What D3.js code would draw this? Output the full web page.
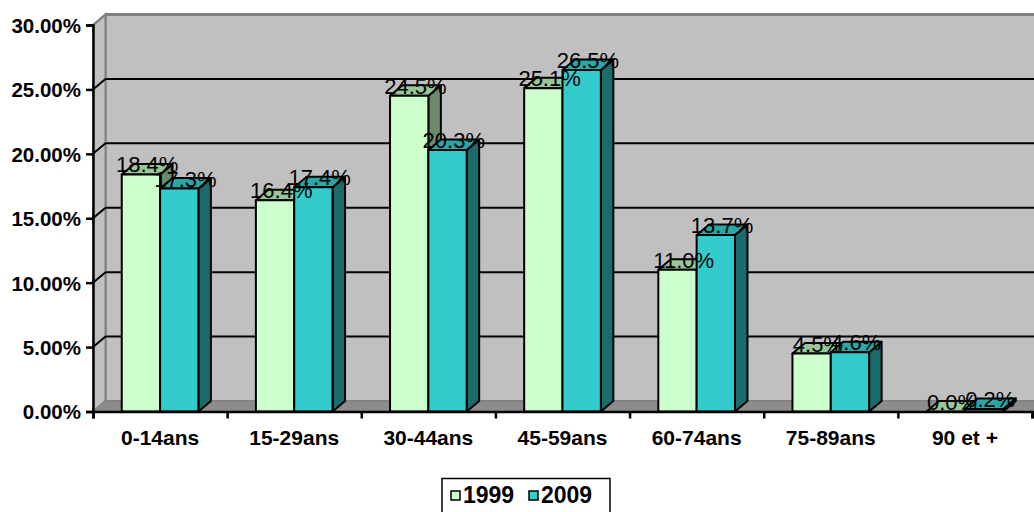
<!DOCTYPE html>
<html>
<head>
<meta charset="utf-8">
<script src="https://cdn.jsdelivr.net/npm/d3@7/dist/d3.min.js"></script>
<style>
  html, body { margin: 0; padding: 0; background: #fff; }
  svg { display: block; }
  text { font-family: "Liberation Sans", Arial, sans-serif; }
</style>
</head>
<body>
<svg id="chart" width="1034" height="512"></svg>
<script>
// Age groups and population share (%) per census year
const categories = ["0-14ans", "15-29ans", "30-44ans", "45-59ans", "60-74ans", "75-89ans", "90 et +"];
const seriesNames = ["1999", "2009"];
const values1999 = [18.4, 16.4, 24.5, 25.1, 11.0, 4.5, 0.0];
const values2009 = [17.3, 17.4, 20.3, 26.5, 13.7, 4.6, 0.2];
const yTicks = [0, 5, 10, 15, 20, 25, 30];

const seriesValues = { "1999": values1999, "2009": values2009 };
const colors = {
  "1999": { front: "#CCFFCC", top: "#99C699", side: "#6C8A6C" },
  "2009": { front: "#33CCCC", top: "#2AA6A6", side: "#1C6B6B" }
};

const svg = d3.select("#chart");
const W = 1034, H = 512;

// plot frame: front plane and oblique depth offset
const x0 = 93, x1 = 1032;
const yTop = 25, yBottom = 411.5;
const dx = 12.5, dy = -10.5;

const y = d3.scaleLinear().domain([0, 30]).range([yBottom, yTop]);
const x = d3.scaleBand().domain(categories).range([x0, x1]).paddingInner(0).paddingOuter(0);
const xs = d3.scaleBand().domain(seriesNames).range([0, x.bandwidth()]).paddingInner(0).paddingOuter(0.75);
const xIdx = d3.scaleLinear().domain([0, categories.length]).range([x0, x1]);

const pts = p => p.map(q => q.join(",")).join(" ");

// walls
const walls = svg.append("g");
// back wall
walls.append("rect")
  .attr("x", x0 + dx).attr("y", y(30) + dy)
  .attr("width", x1 - x0 + 20).attr("height", y(0) - y(30))
  .attr("fill", "#C0C0C0").attr("stroke", "#808080").attr("stroke-width", 2);
// left side wall
walls.append("polygon")
  .attr("points", pts([[x0, y(0)], [x0 + dx, y(0) + dy], [x0 + dx, y(30) + dy], [x0, y(30)]]))
  .attr("fill", "#C0C0C0").attr("stroke", "#808080").attr("stroke-width", 2);
// floor
walls.append("polygon")
  .attr("points", pts([[x0, y(0)], [x0 + dx, y(0) + dy], [x1 + dx + 20, y(0) + dy], [x1 + 20, y(0)]]))
  .attr("fill", "#8C8C8C").attr("stroke", "#808080").attr("stroke-width", 1);

// gridlines on back and side walls
const grid = svg.append("g");
yTicks.filter(t => t > 0 && t < 30).forEach(t => {
  grid.append("line")
    .attr("x1", x0 + dx).attr("x2", W + 10)
    .attr("y1", y(t) + dy).attr("y2", y(t) + dy)
    .attr("stroke", "#000").attr("stroke-width", 2);
});
yTicks.filter(t => t > 0).forEach(t => {
  grid.append("line")
    .attr("x1", x0).attr("y1", y(t))
    .attr("x2", x0 + dx).attr("y2", y(t) + dy)
    .attr("stroke", t === 30 ? "#808080" : "#000").attr("stroke-width", 2);
});
// top edge of back wall
grid.append("line")
  .attr("x1", x0 + dx).attr("x2", W + 10)
  .attr("y1", y(30) + dy).attr("y2", y(30) + dy)
  .attr("stroke", "#808080").attr("stroke-width", 3);

// y axis
const yAxis = svg.append("g")
  .attr("transform", `translate(${x0},0)`)
  .call(d3.axisLeft(y).tickValues(yTicks).tickSize(7).tickPadding(5)
    .tickFormat(d => d3.format(".2f")(d) + "%"));
yAxis.select(".domain").attr("stroke", "#000").attr("stroke-width", 2.5);
yAxis.selectAll(".tick line").attr("stroke", "#000").attr("stroke-width", 2.5);
yAxis.selectAll(".tick text")
  .attr("font-size", 20.5).attr("font-weight", "bold").attr("fill", "#000")
  .attr("font-family", "'Liberation Sans', Arial, sans-serif")
  .attr("dy", "0.36em");

// bars
const bars = svg.append("g");
categories.forEach((c, i) => {
  seriesNames.forEach(s => {
    const v = seriesValues[s][i];
    const bx0 = x(c) + xs(s), bx1 = bx0 + xs.bandwidth();
    const yt = y(v), yb = y(0);
    const col = colors[s];
    const g = bars.append("g").attr("stroke", "#000").attr("stroke-width", 2).attr("stroke-linejoin", "round");
    g.append("polygon")
      .attr("points", pts([[bx1, yb], [bx1 + dx, yb + dy], [bx1 + dx, yt + dy], [bx1, yt]]))
      .attr("fill", col.side);
    g.append("polygon")
      .attr("points", pts([[bx0, yt], [bx1, yt], [bx1 + dx, yt + dy], [bx0 + dx, yt + dy]]))
      .attr("fill", col.top);
    if (yb - yt > 0.5) {
      g.append("rect")
        .attr("x", bx0).attr("y", yt).attr("width", bx1 - bx0).attr("height", yb - yt)
        .attr("fill", col.front);
    }
  });
});

// x axis with ticks at category boundaries
const xAxis = svg.append("g")
  .attr("transform", `translate(0,${yBottom})`)
  .call(d3.axisBottom(xIdx).tickValues(d3.range(categories.length + 1)).tickSize(7).tickFormat(""));
xAxis.select(".domain").attr("stroke", "#000").attr("stroke-width", 2.5);
xAxis.selectAll(".tick line").attr("stroke", "#000").attr("stroke-width", 2.5);

svg.append("g").selectAll("text")
  .data(categories)
  .join("text")
  .attr("x", d => x(d) + x.bandwidth() / 2)
  .attr("y", 445)
  .attr("text-anchor", "middle")
  .attr("font-size", 21).attr("font-weight", "bold")
  .text(d => d);

// value labels
const labels = svg.append("g");
categories.forEach((c, i) => {
  seriesNames.forEach(s => {
    const v = seriesValues[s][i];
    labels.append("text")
      .attr("x", x(c) + xs(s) + xs.bandwidth() / 2 + dx / 2)
      .attr("y", y(v) - 2)
      .attr("text-anchor", "middle")
      .attr("font-size", 22)
      .attr("fill", "#000")
      .text(d3.format(".1f")(v) + "%");
  });
});

// legend
const legend = svg.append("g");
legend.append("rect")
  .attr("x", 442).attr("y", 478.5).attr("width", 168).attr("height", 45)
  .attr("fill", "#fff").attr("stroke", "#000").attr("stroke-width", 1.5);
const legendX = { "1999": 451, "2009": 529 };
seriesNames.forEach(s => {
  legend.append("rect")
    .attr("x", legendX[s]).attr("y", 491).attr("width", 9).attr("height", 9)
    .attr("fill", colors[s].front).attr("stroke", "#000").attr("stroke-width", 1.5);
  legend.append("text")
    .attr("x", legendX[s] + 12).attr("y", 503)
    .attr("font-size", 23).attr("font-weight", "bold")
    .text(s);
});
</script>
</body>
</html>
